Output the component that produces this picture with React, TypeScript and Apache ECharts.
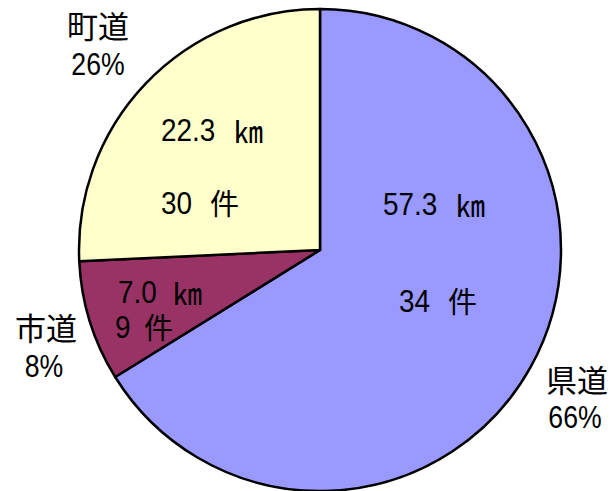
import React, { useEffect, useRef } from "react";
import * as echarts from "echarts";

const categories = ["県道", "市道", "町道"];
const lengthKm = [57.3, 7.0, 22.3];
const counts = [34, 9, 30];
const percents = [66, 8, 26];
const colors = ["#9999FF", "#993366", "#FFFFCC"];

// label layout: [nameX, nameY, pctX, pctY]
const nameTextPos = [
  [577, 378, 575, 417],
  [46, 326, 44, 366],
  [98, 24, 98, 64],
];
// inner layout: [kmNumX, kmUnitX, kmY, cntNumX, cntUnitX, cntY]
const innerTextPos = [
  [383, 456, 204, 399, 448, 301],
  [118, 173, 292, 115, 144, 327],
  [161, 234, 130, 161, 210, 203],
];

const LATIN = '"Liberation Sans", Arial, sans-serif';
const CJK = '"Noto Sans CJK JP", sans-serif';

export default function App() {
  const ref = useRef<HTMLDivElement>(null);
  useEffect(() => {
    const chart = echarts.init(ref.current!, null, { renderer: "svg" });
    const graphics: any[] = [];
    const txt = (x: number, y: number, text: string, size: number, family: string, align: string, sx: number) => ({
      type: "text",
      x,
      y,
      z: 100,
      scaleX: sx,
      style: { text, font: `${size}px ${family}`, fill: "#000", align, verticalAlign: "middle" },
    });
    categories.forEach((c, i) => {
      const p = nameTextPos[i];
      graphics.push(txt(p[0], p[1], c, 31, CJK, "center", 1));
      graphics.push(txt(p[2], p[3], `${percents[i]}%`, 31, LATIN, "center", 0.86));
      const q = innerTextPos[i];
      graphics.push(txt(q[0], q[2], lengthKm[i].toFixed(1), 31, LATIN, "left", 0.9));
      graphics.push(txt(q[1], q[2], "㎞", 29, CJK, "left", 1));
      graphics.push(txt(q[3], q[5], String(counts[i]), 31, LATIN, "left", 0.9));
      graphics.push(txt(q[4], q[5] - 1, "件", 29, CJK, "left", 1));
    });
    chart.setOption({
      animation: false,
      backgroundColor: "#ffffff",
      series: [
        {
          type: "pie",
          z: 1,
          center: [320, 250],
          radius: [0, 241],
          startAngle: 90,
          clockwise: true,
          label: { show: false },
          labelLine: { show: false },
          emphasis: { disabled: true },
          itemStyle: { borderColor: "#000", borderWidth: 2.5 },
          data: categories.map((c, i) => ({ name: c, value: lengthKm[i], itemStyle: { color: colors[i] } })),
        },
      ],
      graphic: { elements: graphics },
    });
    return () => chart.dispose();
  }, []);
  return <div ref={ref} style={{ width: 610, height: 491, position: "absolute", left: 0, top: 0 }} />;
}
